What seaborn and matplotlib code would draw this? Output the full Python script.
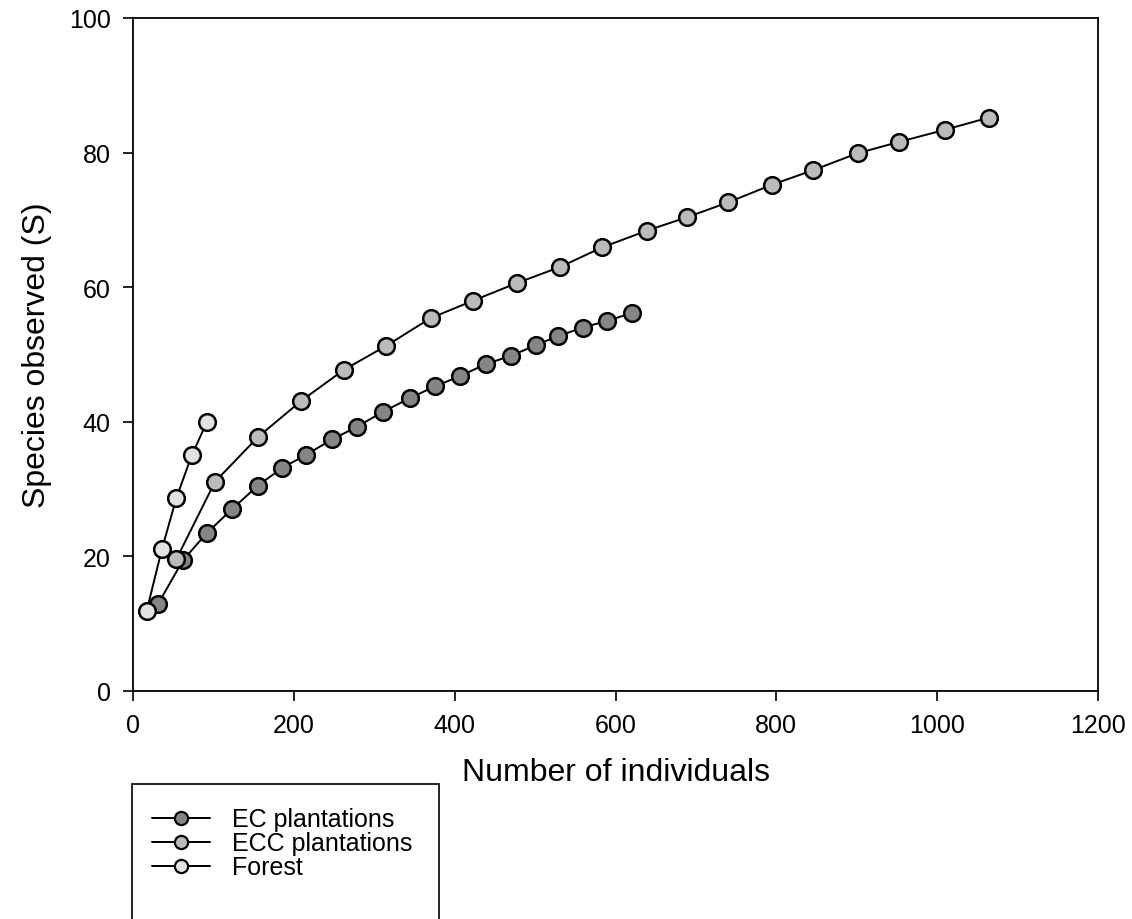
import numpy as np
import pandas as pd
import matplotlib
matplotlib.use("Agg")
import matplotlib.pyplot as plt
import seaborn as sns
from matplotlib.lines import Line2D
from matplotlib.patches import Rectangle

# ---- data ----
ec_x = [31, 62, 92, 123, 155, 185, 215, 248, 279, 311, 344, 376, 407, 439, 470, 501, 528, 559, 590, 621]
ec_y = [12.9, 19.4, 23.5, 27.0, 30.5, 33.1, 35.1, 37.4, 39.3, 41.5, 43.5, 45.3, 46.8, 48.6, 49.8, 51.4, 52.7, 54.0, 55.0, 56.2]

ecc_x = [54, 102, 156, 209, 262, 315, 370, 423, 477, 531, 583, 639, 689, 740, 794, 846, 901, 953, 1010, 1064]
ecc_y = [19.6, 31.1, 37.8, 43.1, 47.7, 51.3, 55.4, 58.0, 60.6, 63.0, 65.9, 68.4, 70.4, 72.6, 75.2, 77.4, 79.9, 81.6, 83.4, 85.2]

forest_x = [17, 36, 54, 73, 92]
forest_y = [11.9, 21.1, 28.7, 35.0, 40.0]

series_names = ["EC plantations", "ECC plantations", "Forest"]
x_ticks = [0, 200, 400, 600, 800, 1000, 1200]
y_ticks = [0, 20, 40, 60, 80, 100]
x_label = "Number of individuals"
y_label = "Species observed (S)"

# ---- style ----
sns.set_style("white")
plt.rcParams['font.family'] = ['Liberation Sans', 'DejaVu Sans']
plt.rcParams['text.color'] = 'black'
plt.rcParams['axes.labelcolor'] = 'black'
plt.rcParams['xtick.color'] = 'black'
plt.rcParams['ytick.color'] = 'black'

face_colors = {"EC plantations": "#858585", "ECC plantations": "#bbbbbb", "Forest": "#e2e2e2"}

df = pd.concat([
    pd.DataFrame({"x": ec_x, "y": ec_y, "series": series_names[0]}),
    pd.DataFrame({"x": ecc_x, "y": ecc_y, "series": series_names[1]}),
    pd.DataFrame({"x": forest_x, "y": forest_y, "series": series_names[2]}),
])

fig = plt.figure(figsize=(11.32, 9.2), dpi=100)
ax = fig.add_axes([133 / 1132, 1 - 692 / 920, (1098 - 133) / 1132, (692 - 19) / 920])

for name in series_names:
    sub = df[df["series"] == name]
    sns.lineplot(data=sub, x="x", y="y", ax=ax, color="black", linewidth=1.4,
                 marker="o", markersize=12, markerfacecolor=face_colors[name],
                 markeredgecolor="black", markeredgewidth=1.8,
                 estimator=None, sort=False, legend=False)

ax.set_xlim(0, 1200)
ax.set_ylim(0, 100)
ax.set_xticks(x_ticks)
ax.set_yticks(y_ticks)
ax.set_xlabel(x_label, fontsize=23, labelpad=14, color="black")
ax.set_ylabel(y_label, fontsize=23, labelpad=12, color="black")
ax.tick_params(axis="both", direction="out", length=7, width=1.2, labelsize=18, pad=9,
               colors="black", labelcolor="black", bottom=True, left=True, top=False, right=False)
for sp in ax.spines.values():
    sp.set_visible(True)
    sp.set_color("black")
    sp.set_linewidth(1.3)

# legend
handles = [Line2D([0], [0], color="black", linewidth=1.4, marker="o", markersize=9.5,
                  markerfacecolor=face_colors[n], markeredgecolor="black", markeredgewidth=1.6)
           for n in series_names]
leg = fig.legend(handles, series_names, loc="upper left",
                 bbox_to_anchor=(134.5 / 1132, 1 - 791 / 920), frameon=False,
                 fontsize=18, handlelength=2.3, handletextpad=0.9, labelspacing=0.0,
                 borderpad=0.2)
for t in leg.get_texts():
    t.set_color("black")
fig.patches.append(Rectangle((132 / 1132, -10 / 920), (439 - 132) / 1132, (930 - 785) / 920,
                             transform=fig.transFigure, fill=False, edgecolor="black",
                             linewidth=1.2, clip_on=False))

fig.savefig("out.png", dpi=100)
